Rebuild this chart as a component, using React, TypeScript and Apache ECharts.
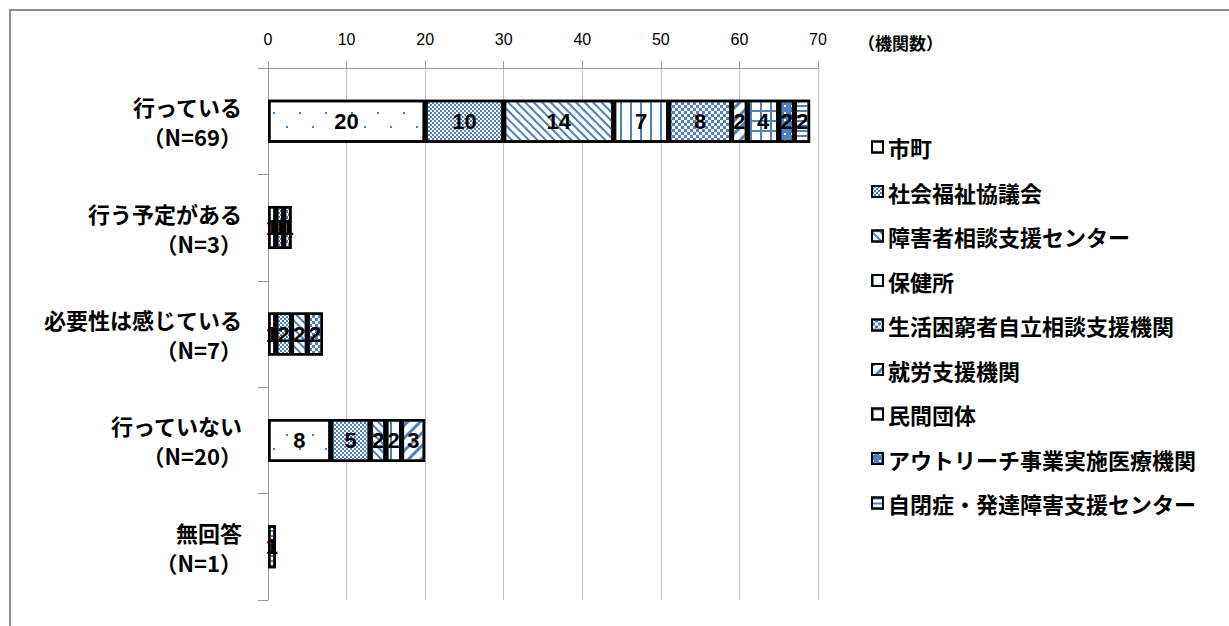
import React, { useEffect, useRef } from 'react';
import * as echarts from 'echarts';

const categories = [
  '行っている\n（N=69）',
  '行う予定がある\n（N=3）',
  '必要性は感じている\n（N=7）',
  '行っていない\n（N=20）',
  '無回答\n（N=1）',
];

const seriesNames = [
  '市町',
  '社会福祉協議会',
  '障害者相談支援センター',
  '保健所',
  '生活困窮者自立相談支援機関',
  '就労支援機関',
  '民間団体',
  'アウトリーチ事業実施医療機関',
  '自閉症・発達障害支援センター',
];

const shichou = [20, 1, 1, 8, 0];
const shakyo = [10, 1, 2, 5, 0];
const shougai = [14, 0, 2, 2, 0];
const hokenjo = [7, 0, 0, 2, 0];
const seikatsu = [8, 1, 2, 0, 0];
const shuro = [2, 0, 0, 3, 0];
const minkan = [4, 0, 0, 0, 0];
const outreach = [2, 0, 0, 0, 0];
const jiheisho = [2, 0, 0, 0, 1];

const seriesValues = [shichou, shakyo, shougai, hokenjo, seikatsu, shuro, minkan, outreach, jiheisho];

const xTicks = { min: 0, max: 70, interval: 10 };

const BLUE = '#4F81BD';

const decals: any[] = [
  { symbol: 'rect', symbolSize: 1, color: BLUE, dashArrayX: [[2, 24], [0, 13, 2, 11]], dashArrayY: [2, 12] },
  { symbol: 'rect', symbolSize: 1, color: BLUE, dashArrayX: [[2, 2], [0, 2, 2, 0]], dashArrayY: [2, 0] },
  { symbol: 'rect', symbolSize: 1, color: BLUE, dashArrayX: [1, 0], dashArrayY: [2, 4], rotation: Math.PI / 4 },
  { symbol: 'rect', symbolSize: 1, color: BLUE, dashArrayX: [2, 8], dashArrayY: [1, 0] },
  { symbol: 'rect', symbolSize: 1, color: BLUE, dashArrayX: [[3, 3], [0, 3, 3, 0]], dashArrayY: [3, 0] },
  { symbol: 'rect', symbolSize: 1, color: BLUE, dashArrayX: [1, 0], dashArrayY: [3, 6], rotation: -Math.PI / 4 },
  { symbol: 'rect', symbolSize: 1, color: BLUE, dashArrayX: [[1, 0], [2, 8]], dashArrayY: [2, 0, 8, 0] },
  { symbol: 'rect', symbolSize: 1, color: '#ffffff', backgroundColor: BLUE, dashArrayX: [2, 5], dashArrayY: [2, 5] },
  { symbol: 'rect', symbolSize: 1, color: BLUE, dashArrayX: [1, 0], dashArrayY: [2, 3] },
];

export default function App() {
  const ref = useRef<HTMLDivElement>(null);
  useEffect(() => {
    if (!ref.current) return;
    const chart = echarts.init(ref.current, null, { renderer: 'svg' });
    const jpFont = '"Noto Sans CJK JP", sans-serif';
    const series = seriesNames.map((name, i) => ({
      name,
      type: 'bar',
      stack: 'total',
      barWidth: 43,
      data: seriesValues[i].map((v) => (v === 0 ? '-' : v)),
      itemStyle: {
        color: i === 7 ? BLUE : '#ffffff',
        borderColor: '#000000',
        borderWidth: 2.5,
        decal: decals[i],
      },
      label: {
        show: true,
        position: 'inside',
        color: '#000000',
        fontSize: 22,
        fontWeight: 'bold',
        fontFamily: '"Liberation Sans", sans-serif',
        formatter: (p: any) => (p.value ? String(p.value) : ''),
      },
    }));
    chart.setOption({
      animation: false,
      backgroundColor: '#ffffff',
      grid: { left: 268, right: 411, top: 68, bottom: 26, containLabel: false },
      legend: {
        orient: 'vertical',
        left: 866,
        top: 131,
        icon: 'rect',
        itemWidth: 11,
        itemHeight: 11,
        itemGap: 22.5,
        textStyle: { fontFamily: jpFont, fontSize: 22, fontWeight: 'bold', color: '#000', lineHeight: 22 },
        data: seriesNames,
      },
      xAxis: {
        type: 'value',
        position: 'top',
        min: xTicks.min,
        max: xTicks.max,
        interval: xTicks.interval,
        axisLine: { show: true, lineStyle: { color: '#9a9a9a', width: 1 } },
        axisTick: { show: true, length: 7, lineStyle: { color: '#9a9a9a' } },
        axisLabel: { fontSize: 16, color: '#000', margin: 21, fontFamily: '"Liberation Sans", sans-serif' },
        splitLine: { show: true, lineStyle: { color: '#c0c0c0', width: 1 } },
      },
      yAxis: {
        type: 'category',
        inverse: true,
        data: categories,
        axisLine: { show: true, lineStyle: { color: '#9a9a9a', width: 1 } },
        axisTick: { show: true, length: 10, lineStyle: { color: '#9a9a9a' } },
        axisLabel: {
          fontFamily: jpFont,
          fontSize: 22,
          fontWeight: 'bold',
          color: '#000',
          lineHeight: 30,
          align: 'right',
          margin: 26,
        },
      },
      graphic: [
        {
          type: 'rect',
          shape: { x: 10, y: 10, width: 1400, height: 800 },
          style: { fill: 'none', stroke: '#8c8c8c', lineWidth: 2 },
          silent: true,
        },
        {
          type: 'text',
          left: 858,
          top: 34,
          style: { text: '（機関数）', fontFamily: jpFont, fontSize: 17, fontWeight: 'bold', fill: '#000' },
        },
      ],
      series,
    });
    return () => chart.dispose();
  }, []);
  return (
    <div
      ref={ref}
      style={{ position: 'fixed', left: 0, top: 0, width: 1229, height: 626, background: '#fff' }}
    />
  );
}
